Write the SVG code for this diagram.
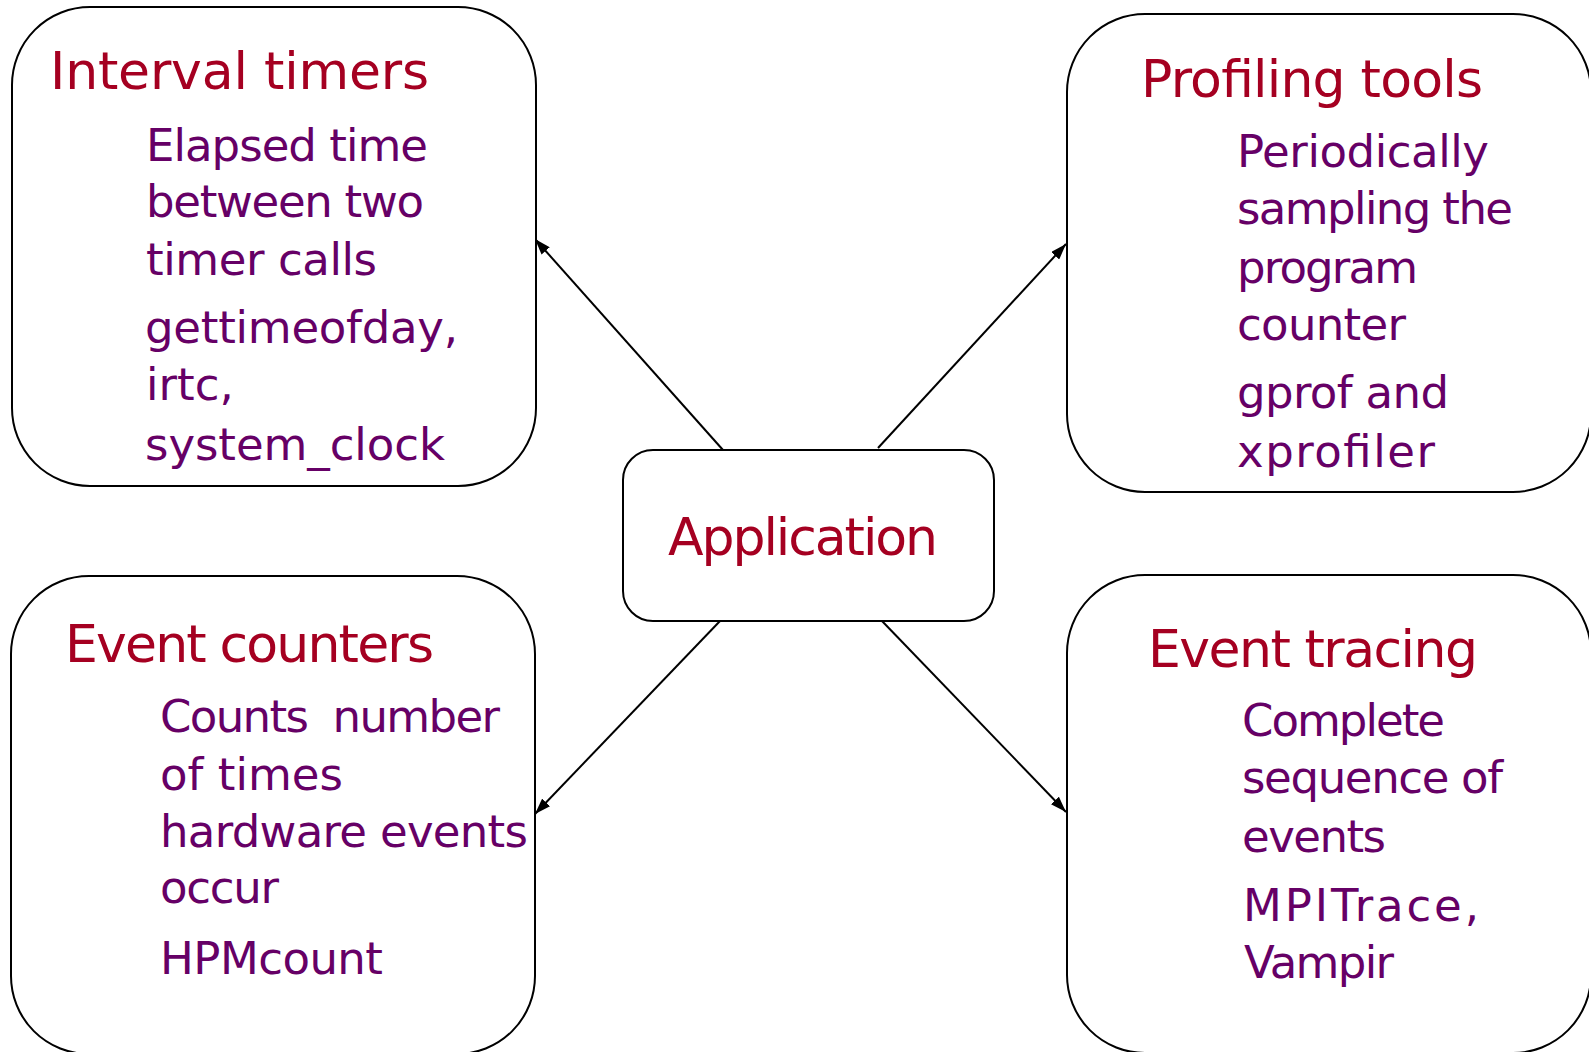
<svg xmlns="http://www.w3.org/2000/svg" width="1589" height="1052" viewBox="0 0 1589 1052">
  <style>
    .box { fill: #ffffff; stroke: #000000; stroke-width: 2; }
    .title { font-family: "DejaVu Sans", "Liberation Sans", sans-serif; font-size: 52px; fill: #A50021; }
    .body { font-family: "DejaVu Sans", "Liberation Sans", sans-serif; font-size: 45px; fill: #660066; }
    .conn { stroke: #000000; stroke-width: 2; fill: none; marker-end: url(#arrow); }
  </style>
  <defs>
    <marker id="arrow" markerUnits="userSpaceOnUse" markerWidth="16" markerHeight="11" viewBox="0 0 16 11" refX="16" refY="5.5" orient="auto">
      <path d="M0,0 L16,5.5 L0,11 z" fill="#000000"/>
    </marker>
  </defs>
  <rect width="1589" height="1052" fill="#ffffff"/>

  <g id="connectors">
    <line class="conn" x1="723" y1="450" x2="535" y2="239"/>
    <line class="conn" x1="878" y1="448" x2="1066" y2="244"/>
    <line class="conn" x1="720" y1="621" x2="535" y2="814"/>
    <line class="conn" x1="882" y1="621" x2="1066" y2="812"/>
  </g>

  <g id="interval-timers">
    <rect class="box" x="12" y="7" width="524" height="479" rx="78" ry="78"/>
    <text class="title" x="50" y="89" textLength="379">Interval timers</text>
    <text class="body" x="146" y="161" textLength="282">Elapsed time</text>
    <text class="body" x="146" y="217" textLength="278">between two</text>
    <text class="body" x="146" y="275" textLength="231">timer calls</text>
    <text class="body" x="145" y="343" textLength="313">gettimeofday,</text>
    <text class="body" x="146" y="400">irtc,</text>
    <text class="body" x="145" y="460" textLength="300">system_clock</text>
  </g>

  <g id="profiling-tools">
    <rect class="box" x="1067" y="14" width="524" height="478" rx="78" ry="78"/>
    <text class="title" x="1141" y="97" textLength="342">Profiling tools</text>
    <text class="body" x="1237" y="167" textLength="252">Periodically</text>
    <text class="body" x="1237" y="224" textLength="276">sampling the</text>
    <text class="body" x="1237" y="283" textLength="181">program</text>
    <text class="body" x="1237" y="340" textLength="169">counter</text>
    <text class="body" x="1237" y="408" textLength="212">gprof and</text>
    <text class="body" x="1237" y="467" textLength="198">xprofiler</text>
  </g>

  <g id="application">
    <rect class="box" x="623" y="450" width="371" height="171" rx="30" ry="30"/>
    <text class="title" x="668" y="555" textLength="270">Application</text>
  </g>

  <g id="event-counters">
    <rect class="box" x="11" y="576" width="524" height="478" rx="78" ry="78"/>
    <text class="title" x="65" y="662" textLength="369">Event counters</text>
    <text class="body" x="160" y="732" textLength="340" xml:space="preserve">Counts  number</text>
    <text class="body" x="160" y="790" textLength="183">of times</text>
    <text class="body" x="160" y="847" textLength="368">hardware events</text>
    <text class="body" x="160" y="903" textLength="119">occur</text>
    <text class="body" x="160" y="974" textLength="223">HPMcount</text>
  </g>

  <g id="event-tracing">
    <rect class="box" x="1067" y="575" width="524" height="478" rx="78" ry="78"/>
    <text class="title" x="1148" y="667" textLength="330">Event tracing</text>
    <text class="body" x="1242" y="736" textLength="203">Complete</text>
    <text class="body" x="1242" y="793" textLength="261">sequence of</text>
    <text class="body" x="1242" y="852" textLength="144">events</text>
    <text class="body" x="1243" y="921" textLength="236">MPITrace,</text>
    <text class="body" x="1244" y="978" textLength="150">Vampir</text>
  </g>
</svg>
